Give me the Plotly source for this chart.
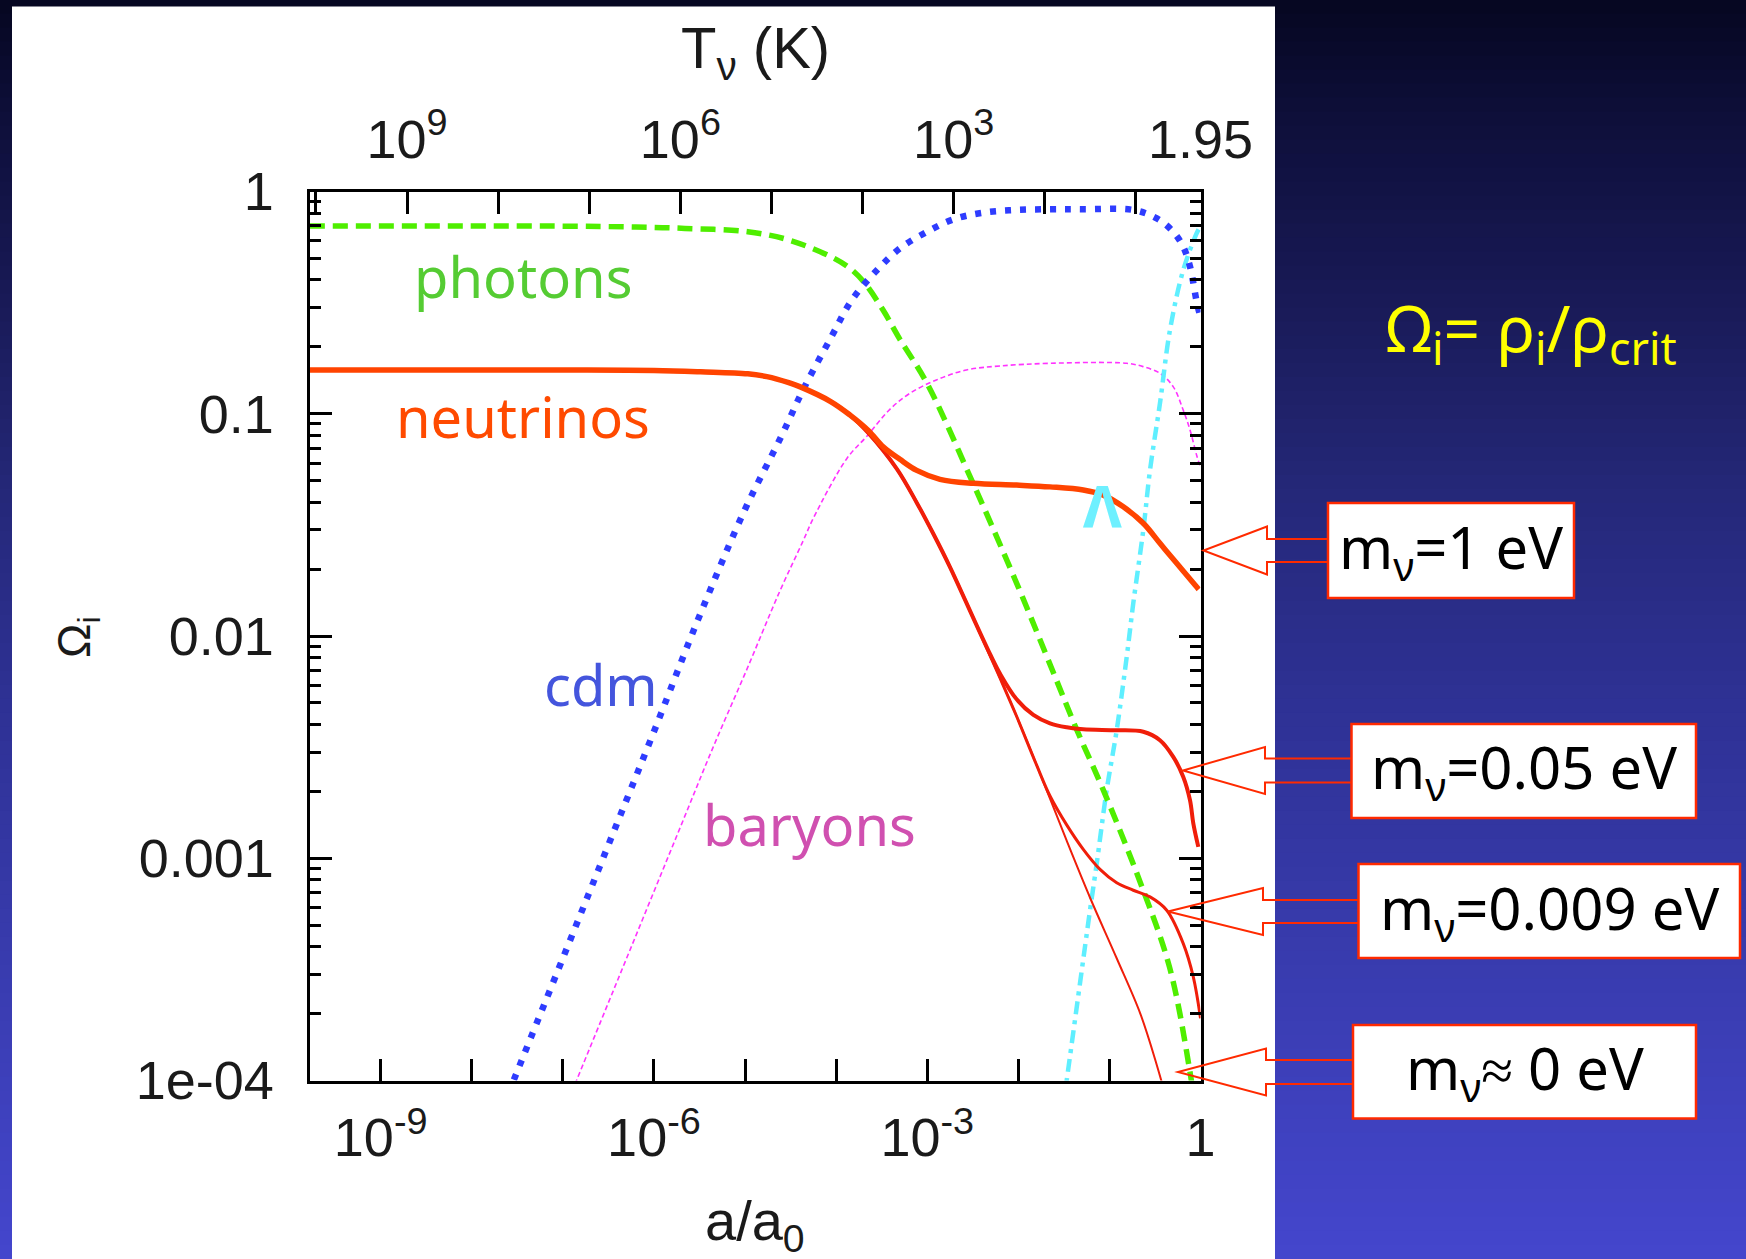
import numpy as np
import plotly.graph_objects as go

# ---------------------------------------------------------------------------
# Density parameters Omega_i versus scale factor a/a0 (log10 values)
# ---------------------------------------------------------------------------
photons_lga = [-9.78, -8.0, -7.0, -6.2, -5.66, -4.97, -4.52, -4.06, -3.85, -3.70,
               -3.49, -3.30, -3.00, -2.50, -2.00, -1.62, -1.36, -1.07, -0.66,
               -0.34, -0.12, 0.0]
photons_lgo = [-0.155, -0.155, -0.156, -0.160, -0.166, -0.181, -0.218, -0.293,
               -0.345, -0.405, -0.530, -0.665, -0.865, -1.310, -1.780, -2.160,
               -2.420, -2.690, -3.110, -3.490, -3.950, -4.300]

cdm_lga = [-7.60, -7.00, -6.50, -6.00, -5.50, -5.00, -4.60, -4.36, -4.06, -3.83,
           -3.55, -3.30, -3.00, -2.71, -2.38, -2.02, -1.65, -1.29, -0.74, -0.48,
           -0.30, -0.19, -0.115, -0.04, 0.0]
cdm_lgo = [-4.06, -3.45, -2.94, -2.43, -1.91, -1.43, -1.10, -0.89, -0.66, -0.49,
           -0.353, -0.256, -0.181, -0.125, -0.095, -0.083, -0.080, -0.080, -0.083,
           -0.121, -0.181, -0.248, -0.338, -0.500, -0.565]

baryons_lga = [-6.90, -6.45, -6.08, -5.71, -5.35, -4.98, -4.62, -4.36, -4.25, -3.88,
               -3.66, -3.41, -3.19, -2.90, -2.57, -2.20, -1.65, -0.81, -0.63,
               -0.445, -0.30, -0.19, -0.115, -0.04, 0.0]
baryons_lgo = [-4.05, -3.60, -3.23, -2.86, -2.50, -2.15, -1.80, -1.57, -1.47, -1.20,
               -1.10, -0.98, -0.908, -0.848, -0.803, -0.785, -0.773, -0.773, -0.788,
               -0.818, -0.878, -0.983, -1.073, -1.190, -1.240]

lambda_lga = [-1.50, -1.469, -1.323, -1.213, -1.139, -1.03, -0.92, -0.81, -0.738,
              -0.628, -0.554, -0.445, -0.335, -0.189, -0.042, 0.0]
lambda_lgo = [-4.09, -4.00, -3.563, -3.234, -3.023, -2.694, -2.424, -2.094, -1.853,
              -1.523, -1.253, -0.953, -0.623, -0.353, -0.188, -0.155]

# neutrinos: shared relativistic branch, then one branch per mass
nu_early_lga = [-9.78, -7.0, -6.0, -5.49, -4.97, -4.76, -4.52, -4.40, -4.06, -3.85]
nu_early_lgo = [-0.803, -0.803, -0.805, -0.811, -0.820, -0.833, -0.860, -0.878, -0.945, -1.005]

nu0_lga = [-3.65, -3.33, -3.115, -2.933, -2.75, -2.46, -2.20, -2.02, -1.76, -1.47,
           -1.21, -0.92, -0.66, -0.48, -0.35]
nu0_lgo = [-1.085, -1.250, -1.400, -1.540, -1.690, -1.950, -2.190, -2.360, -2.620,
           -2.920, -3.180, -3.450, -3.700, -3.930, -4.120]

nu009_lga = [-3.65, -3.33, -3.115, -2.933, -2.75, -2.46, -2.20, -2.02, -1.80, -1.652,
             -1.469, -1.287, -1.103, -0.92, -0.738, -0.554, -0.371, -0.189, -0.079, 0.0]
nu009_lgo = [-1.085, -1.250, -1.400, -1.540, -1.690, -1.950, -2.190, -2.360, -2.580,
             -2.720, -2.850, -2.960, -3.050, -3.110, -3.144, -3.174, -3.234, -3.384,
             -3.534, -3.720]

nu05_lga = [-3.65, -3.33, -3.115, -2.933, -2.75, -2.46, -2.30, -2.20, -2.018, -1.835,
            -1.652, -1.469, -1.287, -0.92, -0.628, -0.445, -0.299, -0.189, -0.115,
            -0.079, -0.024]
nu05_lgo = [-1.085, -1.250, -1.400, -1.540, -1.690, -1.950, -2.090, -2.170, -2.285,
            -2.355, -2.393, -2.411, -2.420, -2.424, -2.431, -2.469, -2.544, -2.634,
            -2.739, -2.843, -2.949]

nu1_lga = [-3.647, -3.48, -3.30, -3.115, -2.86, -2.494, -2.018, -1.652, -1.287,
           -1.067, -0.847, -0.628, -0.445, -0.261, -0.060, -0.02]
nu1_lgo = [-1.075, -1.150, -1.205, -1.255, -1.295, -1.313, -1.321, -1.329, -1.343,
           -1.366, -1.419, -1.493, -1.583, -1.673, -1.771, -1.790]

# axis ticks
a_tickvals = [1e-9, 1e-8, 1e-7, 1e-6, 1e-5, 1e-4, 1e-3, 1e-2, 1e-1, 1.0]
a_ticktext = ["10<sup>-9</sup>", "", "", "10<sup>-6</sup>", "", "",
              "10<sup>-3</sup>", "", "", "1"]
t_tickvals = [1e10, 1e9, 1e8, 1e7, 1e6, 1e5, 1e4, 1e3, 1e2, 1e1, 1.95]
t_ticktext = ["", "10<sup>9</sup>", "", "", "10<sup>6</sup>", "", "",
              "10<sup>3</sup>", "", "", "1.95"]
omega_tickvals = [1e-4, 1e-3, 1e-2, 1e-1, 1.0]
omega_ticktext = ["1e-04", "0.001", "0.01", "0.1", "1"]
omega_minor = [k * 10.0 ** d for d in (-4, -3, -2, -1) for k in range(2, 10)]

T_TODAY = 1.95          # neutrino temperature today (K)
LGA_MIN = -9.78         # left edge of the a/a0 axis

mass_labels = ["m<sub>ν</sub>=1 eV", "m<sub>ν</sub>=0.05 eV",
               "m<sub>ν</sub>=0.009 eV", "m<sub>ν</sub>≈ 0 eV"]

# ---------------------------------------------------------------------------
W, H = 1746, 1259
PLOT_L, PLOT_R, PLOT_T, PLOT_B = 309.6, 1200.5, 191.5, 1080.5


def px(x):
    return x / W


def py(y):
    return 1 - y / H


def tolin(v):
    return 10 ** np.asarray(v, dtype=float)


fig = go.Figure()


def add_curve(lga, lgo, color, width, dash="solid", smoothing=1.0):
    fig.add_trace(go.Scatter(
        x=tolin(lga), y=tolin(lgo), mode="lines",
        line=dict(color=color, width=width, dash=dash, shape="spline",
                  smoothing=smoothing),
        hoverinfo="skip", showlegend=False, cliponaxis=True))


# order: thin lines first, heavy lines on top
add_curve(baryons_lga, baryons_lgo, "#ff33ff", 1.6, "5px,3px")
add_curve(lambda_lga, lambda_lgo, "#5fefff", 4.5, "13px,6px,4px,6px")
add_curve(photons_lga, photons_lgo, "#4fee00", 5.5, "15px,8px")
add_curve(cdm_lga, cdm_lgo, "#2e3cff", 6.5, "6px,9px")
add_curve(nu_early_lga + nu0_lga, nu_early_lgo + nu0_lgo, "#f01e0a", 2)
add_curve(nu_early_lga + nu009_lga, nu_early_lgo + nu009_lgo, "#f01e0a", 3)
add_curve(nu_early_lga + nu05_lga, nu_early_lgo + nu05_lgo, "#f01e0a", 4)
add_curve(nu_early_lga + nu1_lga, nu_early_lgo + nu1_lgo, "#ff4400", 5.5)

# invisible anchors so the temperature axis and mirrored Omega axis are drawn
fig.add_trace(go.Scatter(x=[100.0], y=[0.01], xaxis="x2", yaxis="y",
                         mode="markers", marker=dict(opacity=0),
                         hoverinfo="skip", showlegend=False))
fig.add_trace(go.Scatter(x=[0.01], y=[0.01], xaxis="x", yaxis="y2",
                         mode="markers", marker=dict(opacity=0),
                         hoverinfo="skip", showlegend=False))

# ---------------------------------------------------------------------------
# slide background: vertical navy-to-blue gradient, then the white panel
stops = [(0, (6, 6, 32)), (120, (14, 15, 58)), (320, (26, 27, 90)),
         (500, (37, 40, 122)), (700, (46, 49, 148)), (1000, (58, 61, 178)),
         (1259, (68, 70, 205))]
shapes = []
n_strips = 90
for i in range(n_strips):
    y0 = H * i / n_strips
    y1 = H * (i + 1) / n_strips
    ym = (y0 + y1) / 2
    for (ya, ca), (yb, cb) in zip(stops[:-1], stops[1:]):
        if ya <= ym <= yb:
            t = (ym - ya) / (yb - ya)
            c = tuple(int(round(ca[k] + t * (cb[k] - ca[k]))) for k in range(3))
            break
    shapes.append(dict(type="rect", xref="paper", yref="paper", layer="below",
                       x0=0, x1=1, y0=py(y1 + 0.6), y1=py(y0 - 0.6),
                       fillcolor="rgb(%d,%d,%d)" % c, line=dict(width=0)))
shapes.append(dict(type="rect", xref="paper", yref="paper", layer="below",
                   x0=px(12), x1=px(1275), y0=py(H + 2), y1=py(6.5),
                   fillcolor="white", line=dict(width=0)))

# hollow callout arrows and boxes for the neutrino masses
RED = "#ff2a00"
callouts = [
    # tip (x, y), head back x, head half-height, shaft half-height, box (x0, y0, x1, y1)
    ((1203.5, 550.5), 1267, 24, 11.6, (1328, 503, 1574, 598)),
    ((1183.0, 770.5), 1265, 23.5, 12.0, (1351.5, 724, 1696, 818)),
    ((1168.0, 911.5), 1263, 23.5, 11.6, (1358.5, 864, 1740, 958)),
    ((1178.0, 1072.0), 1266, 23.5, 12.0, (1353, 1025, 1696, 1118.5)),
]
for (tx, ty), hx, hh, sh, (bx0, by0, bx1, by1) in callouts:
    pts = [(bx0, ty - sh), (hx, ty - sh), (hx, ty - hh), (tx, ty),
           (hx, ty + hh), (hx, ty + sh), (bx0, ty + sh)]
    path = "M " + " L ".join("%.5f,%.5f" % (px(x), py(y)) for x, y in pts)
    shapes.append(dict(type="path", xref="paper", yref="paper", path=path,
                       line=dict(color=RED, width=2), layer="above"))
    shapes.append(dict(type="rect", xref="paper", yref="paper", layer="above",
                       x0=px(bx0), x1=px(bx1), y0=py(by1), y1=py(by0),
                       fillcolor="white", line=dict(color=RED, width=2.5)))

# ---------------------------------------------------------------------------
HAND = "Noto Sans"
AXF = "Liberation Sans, Arial, sans-serif"
annotations = []


def note(text, x, y, size, color, family=HAND, angle=0, weight="normal"):
    annotations.append(dict(text=text, x=px(x), y=py(y), xref="paper", yref="paper",
                            showarrow=False, xanchor="center", yanchor="middle",
                            textangle=angle,
                            font=dict(family=family, size=size, color=color,
                                      weight=weight)))


note("photons", 523, 276, 56, "#55cc33")
note("neutrinos", 523, 416, 56, "#ff4a00")
note("cdm", 601, 684, 56, "#4455dd")
note("baryons", 809, 824, 56, "#d050b0")
note("Λ", 1102, 505, 58, "#6ef0ff", weight="bold")
note("Ω<sub>i</sub>= ρ<sub>i</sub>/ρ<sub>crit</sub>", 1531, 331, 64, "#ffff00")
box_centres = [(1451, 550), (1524, 770), (1549, 911), (1524.5, 1071)]
for label, (cx, cy) in zip(mass_labels, box_centres):
    note(label, cx, cy, 58, "#000000")

note("T<sub>ν</sub> (K)", 755, 52, 58, "#1a1a1a", AXF)
note("a/a<sub>0</sub>", 755, 1224, 56, "#1a1a1a", AXF)
note("Ω<sub>i</sub>", 77, 637, 46, "#1a1a1a", AXF, angle=-90)

# ---------------------------------------------------------------------------
tickfont = dict(family=AXF, size=54, color="#1a1a1a")
common = dict(type="log", showgrid=False, zeroline=False, ticks="inside",
              ticklen=22, tickwidth=2.5, tickcolor="black", tickfont=tickfont,
              automargin=False)
ydomain = [py(PLOT_B), py(PLOT_T)]
xdomain = [px(PLOT_L), px(PLOT_R)]

fig.update_layout(
    width=W, height=H, margin=dict(l=0, r=0, t=0, b=0, autoexpand=False),
    paper_bgcolor="rgb(30,32,100)", plot_bgcolor="white",
    shapes=shapes, annotations=annotations, showlegend=False,
    xaxis=dict(common, domain=xdomain, anchor="y", range=[LGA_MIN, 0],
               tickmode="array", tickvals=a_tickvals, ticktext=a_ticktext,
               showline=True, linecolor="black", linewidth=3, mirror=True,
               ticklabelstandoff=8),
    xaxis2=dict(common, overlaying="x", side="top", anchor="y",
                range=[np.log10(T_TODAY) - LGA_MIN, np.log10(T_TODAY)],
                tickmode="array", tickvals=t_tickvals, ticktext=t_ticktext,
                showline=False, ticklabelstandoff=22),
    yaxis=dict(common, domain=ydomain, anchor="x", range=[-4, 0],
               tickmode="array", tickvals=omega_tickvals, ticktext=omega_ticktext,
               showline=True, linecolor="black", linewidth=3, mirror=True,
               ticklabelstandoff=22,
               minor=dict(ticks="inside", ticklen=11, tickwidth=2.5,
                          tickcolor="black", tickmode="array",
                          tickvals=omega_minor)),
    yaxis2=dict(common, overlaying="y", side="right", anchor="x", range=[-4, 0],
                tickmode="array", tickvals=omega_tickvals, showticklabels=False,
                showline=False,
                minor=dict(ticks="inside", ticklen=11, tickwidth=2.5,
                           tickcolor="black", tickmode="array",
                           tickvals=omega_minor)),
)

fig.write_html("out.html")
